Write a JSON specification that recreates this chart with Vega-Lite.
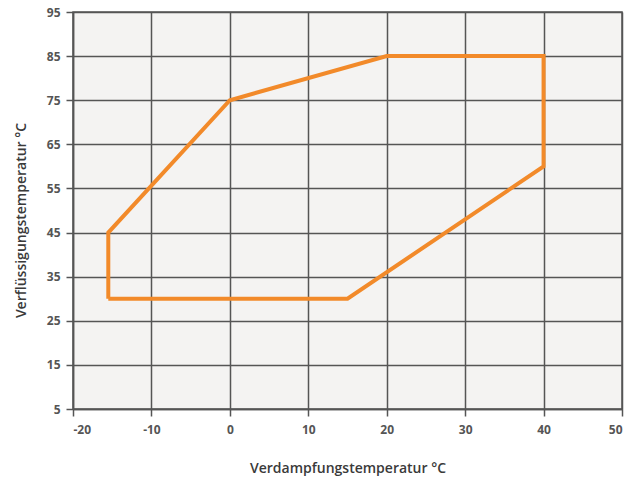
{
  "$schema": "https://vega.github.io/schema/vega-lite/v6.json",
  "width": 549,
  "height": 397,
  "autosize": "none",
  "padding": {"left": 73, "top": 12, "right": 8, "bottom": 74},
  "background": "white",
  "config": {
    "view": {"fill": "#f4f3f2", "stroke": "#555555", "strokeWidth": 1.5},
    "axis": {
      "gridColor": "#555555",
      "gridWidth": 1.5,
      "gridOpacity": 1,
      "domainColor": "#555555",
      "domainWidth": 1.5,
      "tickColor": "#555555",
      "tickWidth": 1.5,
      "tickSize": 7,
      "labelFont": "Open Sans",
      "labelFontSize": 12,
      "labelFontWeight": "bold",
      "labelColor": "#555555",
      "titleFont": "Open Sans",
      "titleFontSize": 14,
      "titleFontWeight": 600,
      "titleColor": "#3a3a3a"
    }
  },
  "data": {
    "values": [
      {"i": 0, "t0": -15.5, "tc": 30},
      {"i": 1, "t0": -15.5, "tc": 45},
      {"i": 2, "t0": 0, "tc": 75},
      {"i": 3, "t0": 20, "tc": 85},
      {"i": 4, "t0": 40, "tc": 85},
      {"i": 5, "t0": 40, "tc": 60},
      {"i": 6, "t0": 15, "tc": 30},
      {"i": 7, "t0": -15.5, "tc": 30}
    ]
  },
  "mark": {"type": "line", "color": "#f28a2a", "strokeWidth": 4, "strokeJoin": "miter"},
  "encoding": {
    "x": {
      "field": "t0", "type": "quantitative",
      "scale": {"domain": [-20, 50], "nice": false, "zero": false},
      "axis": {
        "values": [-20, -10, 0, 10, 20, 30, 40, 50],
        "labelExpr": "datum.value < 0 ? '-' + abs(datum.value) : '' + datum.value",
        "title": "Verdampfungstemperatur °C", "labelPadding": 8, "titlePadding": 26
      }
    },
    "y": {
      "field": "tc", "type": "quantitative",
      "scale": {"domain": [5, 95], "nice": false, "zero": false},
      "axis": {
        "values": [5, 15, 25, 35, 45, 55, 65, 75, 85, 95],
        "title": "Verflüssigungstemperatur °C", "labelPadding": 6, "titlePadding": 18, "titleY": 208
      }
    },
    "order": {"field": "i", "type": "quantitative"}
  }
}
